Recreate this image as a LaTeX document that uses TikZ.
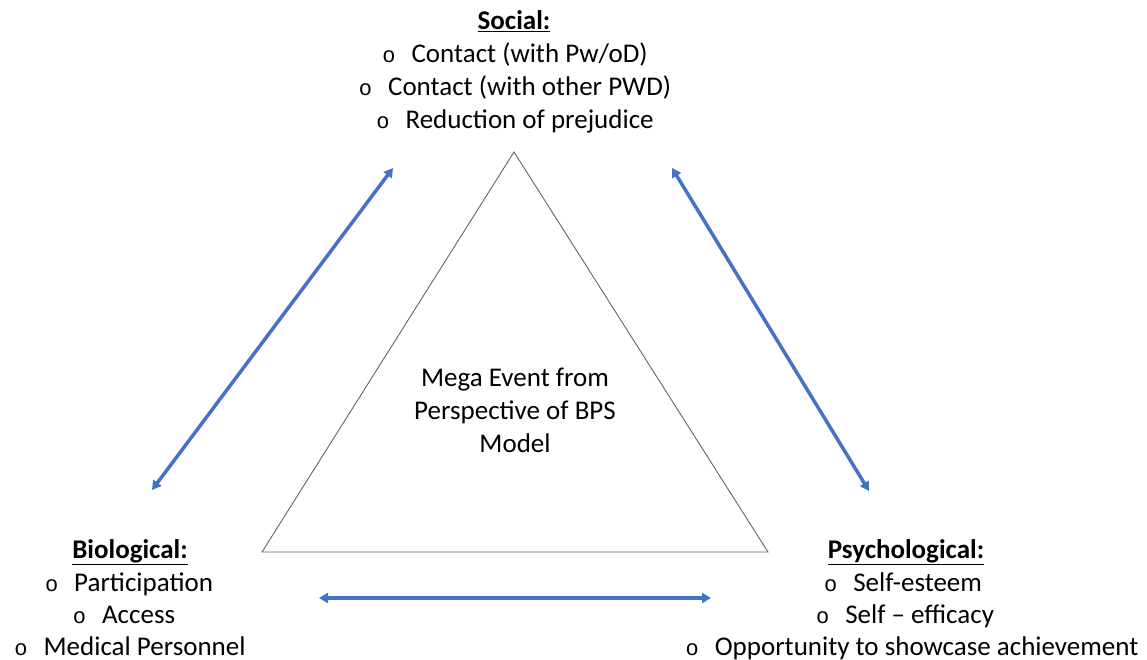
\documentclass[tikz,border=0pt]{standalone}
\usepackage{fontspec}
\setmainfont{Carlito}
\newfontfamily\bulfont{Liberation Mono}
\usetikzlibrary{arrows.meta}
\begin{document}
\begin{tikzpicture}[x=1pt,y=-1pt,
  txt/.style={anchor=base,inner sep=0pt,font=\fontsize{27}{32}\selectfont},
  link/.style={draw=arrowblue,line width=3.5pt,{Triangle[width=10pt,length=9pt]}-{Triangle[width=10pt,length=9pt]}},
  tri/.style={draw=edgegray,line width=0.9pt}]
\definecolor{arrowblue}{HTML}{4472C4}
\definecolor{edgegray}{HTML}{5A6478}
\newcommand{\bul}{{\bulfont\fontsize{22}{22}\selectfont o}\hspace{16pt}}
\useasboundingbox (0,0) rectangle (1147,660);
% central triangle
\coordinate (apex) at (514,152);
\coordinate (bl) at (262,552);
\coordinate (br) at (768,552);
\draw[tri] (apex) -- (bl) -- (br) -- cycle;
% title inside the triangle
\node[txt] (m1) at (515,386) {Mega Event from};
\node[txt] (m2) at (515,419) {Perspective of BPS};
\node[txt] (m3) at (515,452) {Model};
% social block
\node[txt] (s0) at (514,30) {\underline{\textbf{Social:}}};
\node[txt] (s1) at (515,63) {\bul Contact (with Pw/oD)};
\node[txt] (s2) at (515,96) {\bul Contact (with other PWD)};
\node[txt] (s3) at (515,129) {\bul Reduction of prejudice};
% biological block
\node[txt] (b0) at (130,558) {\underline{\textbf{Biological:}}};
\node[txt] (b1) at (129,591) {\bul Participation};
\node[txt] (b2) at (124,623) {\bul Access};
\node[txt] (b3) at (130,655) {\bul Medical Personnel};
% psychological block
\node[txt] (p0) at (906,558) {\underline{\textbf{Psychological:}}};
\node[txt] (p1) at (903,591) {\bul Self-esteem};
\node[txt] (p2) at (905,623) {\bul Self -- efficacy};
\node[txt] (p3) at (912,655) {\bul Opportunity to showcase achievement};
% two-way links between the three domains
\coordinate (lt) at (393,168);
\coordinate (lb) at (152,490);
\coordinate (rt) at (672,168);
\coordinate (rb) at (869,491);
\coordinate (hl) at (319,598);
\coordinate (hr) at (711,598);
\draw[link] (lb) -- (lt);
\draw[link] (rt) -- (rb);
\draw[link] (hl) -- (hr);
\end{tikzpicture}
\end{document}
